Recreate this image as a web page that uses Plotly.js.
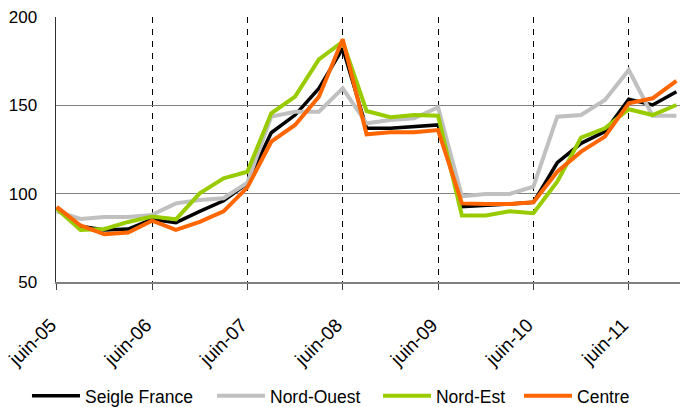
<!DOCTYPE html>
<html>
<head>
<meta charset="utf-8">
<script src="https://cdn.plot.ly/plotly-3.0.1.min.js"></script>
<style>
  html, body { margin: 0; padding: 0; background: #fff; }
  #chart { width: 680px; height: 407px; }
</style>
</head>
<body>
<div id="chart"></div>
<script>
var quarters = [
  "juin-05","sept-05","déc-05","mars-06",
  "juin-06","sept-06","déc-06","mars-07",
  "juin-07","sept-07","déc-07","mars-08",
  "juin-08","sept-08","déc-08","mars-09",
  "juin-09","sept-09","déc-09","mars-10",
  "juin-10","sept-10","déc-10","mars-11",
  "juin-11","sept-11","déc-11"
];
var tickLabels = ["juin-05","juin-06","juin-07","juin-08","juin-09","juin-10","juin-11"];
var seriesNames = ["Seigle France","Nord-Ouest","Nord-Est","Centre"];

var seigleFrance = [92, 81.5, 79.5, 80, 85.5, 83.6, 90, 96, 105.9, 134.5, 144.5, 159.6, 182.3, 137, 137, 137.9, 138.9, 92.6, 93.6, 94.2, 95.1, 117.5, 128.5, 135.1, 153.4, 150.2, 157.7];
var nordOuest    = [90, 85.7, 86.8, 86.8, 88, 94.5, 96.4, 97.4, 106.2, 143.6, 146.4, 146.4, 159.6, 139.8, 141.7, 142.7, 148.9, 98.5, 99.8, 99.8, 104, 143.6, 144.5, 153, 170, 144.1, 144.1];
var nordEst      = [91.5, 79.5, 80, 84, 87, 85.5, 100.2, 108.7, 112.4, 145.5, 154.9, 176, 186, 146.8, 143.3, 144.5, 144.1, 87.6, 87.6, 90, 88.9, 106.8, 131.7, 137, 147.8, 144.5, 150.2];
var centre       = [92.5, 82, 77, 78, 84.7, 79.5, 84, 90, 103.6, 129.4, 138.9, 154.9, 187.4, 133.6, 134.7, 134.7, 136, 94.5, 94.2, 94.2, 95.1, 112.4, 123.8, 132.3, 151.2, 154, 163.8];

var FONT = "Liberation Sans, Arial, sans-serif";

function mk(name, y, color, w, leg) {
  return { type: "scatter", mode: "lines", name: name, x: quarters, y: y,
           line: { color: color, width: w }, hoverinfo: "skip", legend: leg };
}

var data = [
  mk(seriesNames[0], seigleFrance, "#000000", 3.5, "legend"),
  mk(seriesNames[1], nordOuest, "#c0c0c0", 4, "legend2"),
  mk(seriesNames[2], nordEst, "#99cc00", 4, "legend3"),
  mk(seriesNames[3], centre, "#ff6600", 4, "legend4")
];

function leg(x) {
  return {
    orientation: "h", x: x, xanchor: "left", y: -0.43, yanchor: "middle",
    font: { family: FONT, size: 17.5, color: "#000000" },
    itemwidth: 48, bgcolor: "rgba(0,0,0,0)"
  };
}

var layout = {
  width: 680, height: 407,
  margin: { l: 56, r: 0, t: 17, b: 125, pad: 0, autoexpand: false },
  paper_bgcolor: "#ffffff", plot_bgcolor: "#ffffff",
  font: { family: FONT, size: 17, color: "#000000" },
  showlegend: true,
  xaxis: {
    type: "category",
    categoryorder: "array", categoryarray: quarters,
    range: [-0.03, 26.15],
    tickmode: "array", tickvals: tickLabels, ticktext: tickLabels,
    tickangle: -45,
    tickfont: { family: FONT, size: 19, color: "#000000" },
    ticks: "outside", ticklen: 6, tickcolor: "#404040", tickwidth: 1,
    showgrid: true, gridcolor: "#000000", gridwidth: 1, griddash: "6px,6px",
    showline: true, linecolor: "#808080", linewidth: 1.5,
    zeroline: false, fixedrange: true, automargin: false,
    ticklabelstandoff: 17,
    ticklabelshift: -6
  },
  yaxis: {
    range: [50, 200],
    tickvals: [50, 100, 150, 200],
    tickfont: { family: FONT, size: 17, color: "#000000" },
    ticks: "", showgrid: true, gridcolor: "#808080", gridwidth: 1.3,
    showline: true, linecolor: "#303030", linewidth: 1.5,
    zeroline: false, fixedrange: true, automargin: false,
    ticklabelstandoff: 14
  },
  legend: leg(-0.0465),
  legend2: leg(0.25),
  legend3: leg(0.516),
  legend4: leg(0.742)
};

Plotly.newPlot("chart", data, layout, { displayModeBar: false, staticPlot: true });
</script>
</body>
</html>
